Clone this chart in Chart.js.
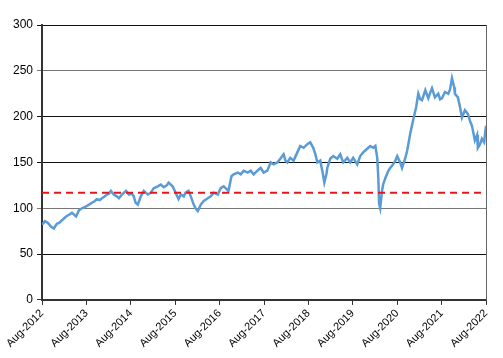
<!DOCTYPE html>
<html>
<head>
<meta charset="utf-8">
<script src="https://cdn.jsdelivr.net/npm/chart.js@4/dist/chart.umd.min.js"></script>
<style>
html,body{margin:0;padding:0;background:#fff;}
#wrap{width:503px;height:358px;}
</style>
</head>
<body>
<div id="wrap"><canvas id="c" width="503" height="358"></canvas></div>
<script>
// months since Aug-2012
const months = [0,0.8,1.6,2.4,3.2,4.0,4.6,5.7,6.5,7.3,8.1,9.2,10.0,10.8,11.9,12.7,13.5,14.3,14.8,15.6,16.2,17.0,17.5,18.1,18.6,19.4,20.2,20.8,21.6,22.7,23.5,24.3,24.8,25.3,25.9,26.7,27.5,28.6,29.4,30.2,31.3,32.1,32.9,33.7,34.2,35.3,36.1,36.9,37.5,38.3,38.8,39.6,40.2,41.0,41.5,42.1,42.9,43.7,44.8,45.6,46.4,47.5,48.3,49.1,49.9,50.4,51.2,51.8,52.9,53.7,54.5,55.6,56.4,57.2,58.2,59.1,59.9,60.9,61.8,62.6,63.6,64.4,65.3,65.8,66.3,67.1,68.0,69.0,69.8,70.7,71.7,72.5,73.3,73.9,74.4,75.2,75.8,76.3,76.9,77.1,77.9,78.7,79.8,80.6,81.4,82.5,83.3,84.1,85.2,86.0,86.8,87.9,88.7,89.5,90.1,90.6,90.9,91.1,91.4,91.9,92.2,92.8,93.6,94.1,94.9,95.5,96.0,96.8,97.3,98.2,98.7,99.5,100.3,101.1,101.7,102.2,102.7,103.6,104.4,104.9,105.4,106.2,107.1,107.6,108.1,108.9,109.8,110.3,110.8,111.4,111.6,112.4,113.0,113.5,114.3,115.1,115.7,116.2,117.0,117.6,117.8,118.4,118.9,119.5,120.0];
const values = [82,86,84,80,78,83,84,88,91,93,95,91,98,100,102,104,106,108,110,109,111,113,115,116,119,115,113,111,115,119,115,116,113,106,104,113,119,115,117,122,124,126,123,125,128,124,117,110,115,113,117,119,113,104,100,97,104,108,111,113,117,115,122,124,121,119,135,137,139,137,141,139,141,137,141,144,139,141,150,148,150,154,159,152,150,155,152,161,168,166,170,172,166,159,150,152,140,128,138,144,154,157,154,159,150,155,150,155,148,157,161,165,168,166,168,155,133,105,100,119,126,133,141,144,148,152,157,150,144,155,163,181,196,210,225,219,218,229,220,226,231,221,225,219,220,227,225,230,242,232,225,221,210,199,207,203,195,190,174,180,166,170,176,172,190];
const reference = 117;
const tickLabels = ['Aug-2012','Aug-2013','Aug-2014','Aug-2015','Aug-2016','Aug-2017','Aug-2018','Aug-2019','Aug-2020','Aug-2021','Aug-2022'];

const seriesPts = months.map((m,i)=>({x:m,y:values[i]}));
const refPts = [{x:0,y:reference},{x:(tickLabels.length-1)*12,y:reference}];

Chart.defaults.font.family = '"Liberation Sans", Arial, sans-serif';
Chart.defaults.color = '#000';

new Chart(document.getElementById('c'), {
  type: 'line',
  data: {
    datasets: [
      {data: seriesPts, borderColor:'#5B9BD5', borderWidth:2.5, pointRadius:0, tension:0, order:2},
      {data: refPts, borderColor:'#E8141B', borderWidth:2, borderDash:[7,5], pointRadius:0, order:1}
    ]
  },
  options: {
    responsive:false,
    animation:false,
    layout:{padding:{top:25,right:17,left:9,bottom:6}},
    plugins:{legend:{display:false},tooltip:{enabled:false}},
    scales:{
      x:{
        type:'linear', min:0, max:120,
        afterBuildTicks:(ax)=>{ax.ticks = tickLabels.map((_,i)=>({value:i*12}));},
        ticks:{autoSkip:false, maxRotation:45, minRotation:45, font:{size:11}, padding:2,
          callback:(v)=>tickLabels[Math.round(v/12)]},
        grid:{display:true, drawOnChartArea:false, drawTicks:true, tickLength:5, color:'#333', lineWidth:1},
        border:{display:true, color:'#333', width:2}
      },
      y:{
        min:0, max:300,
        ticks:{stepSize:50, font:{size:12}, padding:4},
        grid:{color:(c)=> c.tick && (c.tick.value===0) ? '#333' : (c.tick && (c.tick.value===250||c.tick.value===100)?'#777':'#111'), lineWidth:1, tickLength:5},
        border:{display:true, color:'#333', width:2}
      },
      yr:{
        position:'right', min:0, max:300,
        ticks:{display:false},
        grid:{display:false, drawTicks:false},
        border:{display:true, color:'#666', width:1}
      }
    }
  }
});
</script>
</body>
</html>
